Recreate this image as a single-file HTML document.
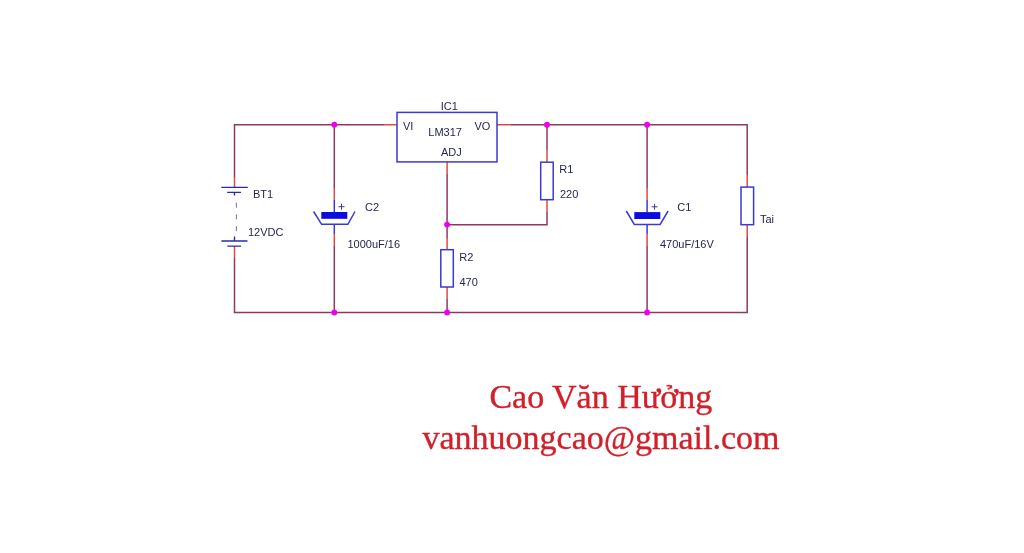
<!DOCTYPE html>
<html><head><meta charset="utf-8">
<style>
html,body{-webkit-font-smoothing:antialiased;margin:0;padding:0;background:#fff;width:1024px;height:553px;overflow:hidden;}
svg{position:absolute;left:0;top:0;will-change:transform;}
.w{stroke:#8e3860;stroke-width:1.5;fill:none;}
.p{stroke:#e04a40;stroke-width:1.5;fill:none;}
.b{stroke:#3a3ad2;stroke-width:1.5;fill:none;}
.bd{stroke:#2a2ab0;stroke-width:1.4;fill:none;}
.t{font-family:"Liberation Sans",sans-serif;font-size:11px;fill:#262652;}
.r{font-family:"Liberation Serif",serif;font-size:34px;fill:#d2202a;stroke:#d2202a;stroke-width:0.35px;}
</style></head>
<body>
<svg width="1024" height="553" viewBox="0 0 1024 553">
<!-- wires -->
<path class="w" d="M234.5,177 V124.7 H384"/>
<path class="w" d="M234.5,258 V312.5 H747.2 V237"/>
<path class="w" d="M511,124.7 H747.2 V175"/>
<path class="w" d="M334.3,124.7 V188"/>
<path class="w" d="M334.3,246 V312.5"/>
<path class="w" d="M447.1,174 V238"/>
<path class="w" d="M447.1,299 V312.5"/>
<path class="w" d="M547,124.7 V150"/>
<path class="w" d="M547,212 V224.8 H447.1"/>
<path class="w" d="M647.1,124.7 V188"/>
<path class="w" d="M647.1,246 V312.5"/>
<!-- pins -->
<path class="p" d="M384,124.7 H397 M497,124.7 H511 M447.1,162 V174"/>
<path class="p" d="M447.1,238 V250 M447.1,287 V299"/>
<path class="p" d="M547,150 V162 M547,200 V212"/>
<path class="p" d="M747.2,175 V187 M747.2,225 V237"/>
<path class="p" d="M334.3,188 V200 M334.3,234 V246"/>
<path class="p" d="M647.1,188 V200 M647.1,234 V246"/>
<path class="p" d="M234.5,177 V187.4 M234.5,246 V258"/>
<!-- IC -->
<rect class="b" x="397" y="112.4" width="100" height="49.5"/>
<text class="t" x="440.8" y="110">IC1</text>
<text class="t" x="403" y="130">VI</text>
<text class="t" x="428.3" y="136">LM317</text>
<text class="t" x="474.5" y="130">VO</text>
<text class="t" x="441" y="156">ADJ</text>
<!-- R1 -->
<rect class="b" x="540.7" y="162.2" width="12.5" height="37.5"/>
<text class="t" x="559.3" y="173">R1</text>
<text class="t" x="560" y="198">220</text>
<!-- R2 -->
<rect class="b" x="440.8" y="249.7" width="12.5" height="37.3"/>
<text class="t" x="459.3" y="260.5">R2</text>
<text class="t" x="459.5" y="285.5">470</text>
<!-- Tai -->
<rect class="b" x="741" y="187.1" width="12.6" height="37.6"/>
<text class="t" x="760" y="222.8">Tai</text>
<!-- battery -->
<path class="bd" d="M221.3,187.4 H247.8 M227.2,192.4 H241 M234.5,192.4 V195.5"/>
<path class="bd" d="M221.4,241 H247.5 M227.3,246.1 H241 M234.5,236.6 V241"/>
<path stroke="#7070b0" stroke-width="1" fill="none" stroke-dasharray="5,6.7" d="M236.4,202.7 V232"/>
<text class="t" x="253" y="198">BT1</text>
<text class="t" x="248" y="235.5">12VDC</text>
<!-- C2 -->
<path class="b" d="M334.3,200 V212 M313.6,211.5 L321.6,224.3 H347.9 L355,211.5 M334.3,224.3 V234"/>
<rect x="321.3" y="212" width="26" height="6.8" fill="#0c0ce0"/>
<path stroke="#3c3c90" stroke-width="1" fill="none" d="M338.5,206.7 H344.5 M341.5,203.7 V209.7"/>
<text class="t" x="365" y="210.5">C2</text>
<text class="t" x="347.5" y="247.7">1000uF/16</text>
<!-- C1 -->
<path class="b" d="M647.1,200 V212 M626.3,211 L634.3,224.5 H660.1 L668.1,211 M647.1,224.5 V234"/>
<rect x="634.3" y="212.1" width="26" height="6.9" fill="#0c0ce0"/>
<path stroke="#3c3c90" stroke-width="1" fill="none" d="M651.6,206.8 H657.6 M654.6,203.8 V209.8"/>
<text class="t" x="677.3" y="210.5">C1</text>
<text class="t" x="660" y="248">470uF/16V</text>
<!-- junctions -->
<g fill="#ee00ee">
<circle cx="334.3" cy="124.7" r="2.95"/>
<circle cx="334.3" cy="312.5" r="2.95"/>
<circle cx="447.1" cy="224.6" r="2.95"/>
<circle cx="447.1" cy="312.5" r="2.95"/>
<circle cx="547" cy="124.7" r="2.95"/>
<circle cx="647.1" cy="124.7" r="2.95"/>
<circle cx="647.1" cy="312.5" r="2.95"/>
</g>
<text class="r" x="600.8" y="407.5" text-anchor="middle">Cao Văn Hưởng</text>
<text class="r" x="601" y="449" text-anchor="middle">vanhuongcao@gmail.com</text>
</svg>
</body></html>
